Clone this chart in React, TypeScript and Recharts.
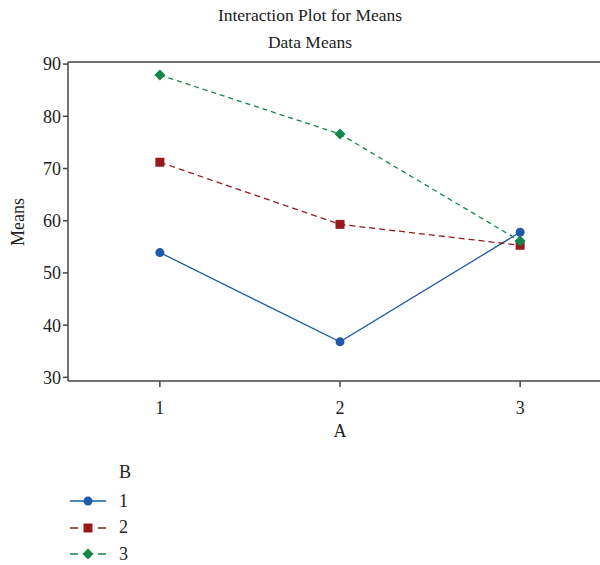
import React from "react";
import { LineChart, Line, XAxis, YAxis, ReferenceLine } from "recharts";

const levelsA = [1, 2, 3];
const meansB1 = [53.9, 36.8, 57.8];
const meansB2 = [71.2, 59.3, 55.3];
const meansB3 = [87.9, 76.6, 56.1];
const yTicks = [30, 40, 50, 60, 70, 80, 90];

const BLUE = "#1d5aa8";
const RED = "#951b1e";
const GREEN = "#13874a";
const AXIS = "#444";
const FONT = "'Liberation Serif', 'DejaVu Serif', serif";

const data = levelsA.map((a, i) => ({
  a,
  b1: meansB1[i],
  b2: meansB2[i],
  b3: meansB3[i],
}));

const series = [
  { key: "b1", name: "1", color: BLUE, dash: undefined as string | undefined, shape: "circle" },
  { key: "b2", name: "2", color: RED, dash: "6 4", shape: "square" },
  { key: "b3", name: "3", color: GREEN, dash: "5 4", shape: "diamond" },
];

function Marker({ cx, cy, shape, color }: { cx: number; cy: number; shape: string; color: string }) {
  if (shape === "circle") return <circle cx={cx} cy={cy} r={4.5} fill={color} />;
  if (shape === "square") return <rect x={cx - 4.5} y={cy - 4.5} width={9} height={9} fill={color} />;
  return (
    <polygon
      points={`${cx},${cy - 5.5} ${cx + 5.5},${cy} ${cx},${cy + 5.5} ${cx - 5.5},${cy}`}
      fill={color}
    />
  );
}

const tickStyle = { fontSize: 18, fill: "#222", fontFamily: FONT };

export default function App() {
  return (
    <div
      style={{
        position: "absolute",
        left: 0,
        top: 0,
        width: 600,
        height: 565,
        overflow: "hidden",
        background: "#fff",
        fontFamily: FONT,
        color: "#222",
      }}
    >
      <div style={{ position: "absolute", top: 2, left: 0, width: 620, textAlign: "center", fontSize: 17.5, lineHeight: "27px" }}>
        Interaction Plot for Means
        <br />
        Data Means
      </div>
      <div
        style={{
          position: "absolute",
          left: 18,
          top: 222,
          transform: "translate(-50%, -50%) rotate(-90deg)",
          fontSize: 18,
          whiteSpace: "nowrap",
        }}
      >
        Means
      </div>
      <LineChart
        width={640}
        height={565}
        data={data}
        margin={{ top: 62, right: 28, left: 28, bottom: 124 }}
      >
        <XAxis
          type="number"
          dataKey="a"
          domain={[0.49, 3.51]}
          ticks={levelsA}
          stroke={AXIS}
          strokeWidth={1.5}
          tickSize={6}
          tick={{ ...tickStyle, dy: 12 }}
          height={60}
          label={{ value: "A", position: "insideBottom", offset: 4, style: tickStyle }}
        />
        <YAxis
          type="number"
          domain={[29.3, 90.4]}
          ticks={yTicks}
          stroke={AXIS}
          strokeWidth={1.5}
          tickSize={5}
          tick={tickStyle}
          width={40}
          allowDataOverflow
        />
        <ReferenceLine y={90.4} stroke={AXIS} strokeWidth={1.5} />
        {series.map((s) => (
          <Line
            key={s.key}
            dataKey={s.key}
            name={s.name}
            stroke={s.color}
            strokeWidth={1.3}
            strokeDasharray={s.dash}
            isAnimationActive={false}
            dot={(p: any) => (
              <Marker key={`${s.key}-${p.index}`} cx={p.cx} cy={p.cy} shape={s.shape} color={s.color} />
            )}
            activeDot={false}
          />
        ))}
      </LineChart>
      <div style={{ position: "absolute", left: 119, top: 462, fontSize: 18 }}>B</div>
      {series.map((s, i) => (
        <div key={s.key} style={{ position: "absolute", left: 68, top: 489 + i * 26.5, height: 24, display: "flex", alignItems: "center" }}>
          <svg width={40} height={20}>
            {s.dash ? (
              <>
                <line x1={2} y1={10} x2={10} y2={10} stroke={s.color} strokeWidth={1.5} />
                <line x1={30} y1={10} x2={38} y2={10} stroke={s.color} strokeWidth={1.5} />
              </>
            ) : (
              <line x1={2} y1={10} x2={38} y2={10} stroke={s.color} strokeWidth={1.5} />
            )}
            <Marker cx={20} cy={10} shape={s.shape} color={s.color} />
          </svg>
          <span style={{ marginLeft: 11, fontSize: 18 }}>{s.name}</span>
        </div>
      ))}
    </div>
  );
}
